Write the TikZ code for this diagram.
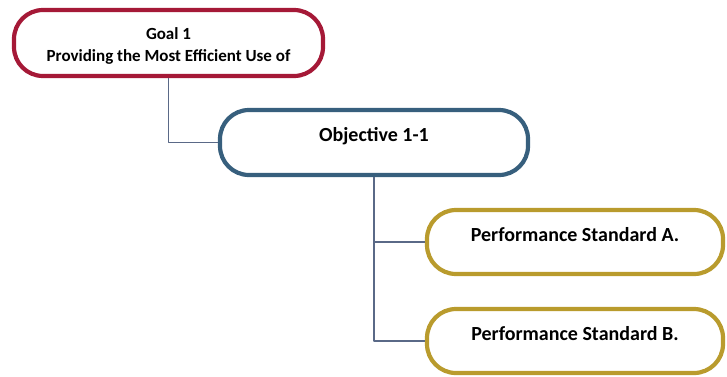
\documentclass[tikz,border=0pt]{standalone}
\usepackage{fontspec}
\setmainfont{Carlito}
\usetikzlibrary{positioning}
\definecolor{goalred}{RGB}{165,25,55}
\definecolor{objblue}{RGB}{55,95,125}
\definecolor{stdgold}{RGB}{185,155,45}
\definecolor{linkgray}{RGB}{90,105,135}
\begin{document}
\begin{tikzpicture}[x=1pt, y=-1pt, line join=round, line cap=round]
	\tikzset{
		box/.style={draw, line width=4.2pt, rounded corners=29pt, fill=white, inner sep=0pt, align=center},
		onetext/.style={text height=14pt, text depth=16pt},
		link/.style={draw=linkgray, line width=1.2pt, line cap=butt}
	}
	\useasboundingbox (0,0) rectangle (727,376);
	\node[box, draw=goalred, minimum width=309pt, minimum height=66pt] (goal) at (168.5,43) {};
	\node[align=center, inner sep=0pt, font=\bfseries\fontsize{17}{22}\selectfont] (goaltext) at (168.5,46) {Goal 1\\Providing the Most Efficient Use of};
	\node[box, onetext, draw=objblue, minimum width=308pt, minimum height=65pt, font=\bfseries\fontsize{20}{24}\selectfont] (obj) at (374,142.5) {Objective 1-1};
	\node[box, onetext, draw=stdgold, minimum width=296pt, minimum height=64pt, font=\bfseries\fontsize{20}{24}\selectfont] (psa) at (575,242) {Performance Standard A.};
	\node[box, onetext, draw=stdgold, minimum width=296pt, minimum height=64pt, font=\bfseries\fontsize{20}{24}\selectfont] (psb) at (575,341) {Performance Standard B.};
	\draw[link] (goal.south) |- (obj.west);
	\draw[link] (obj.south) |- (psa.west) (obj.south) |- (psb.west);
\end{tikzpicture}
\end{document}
